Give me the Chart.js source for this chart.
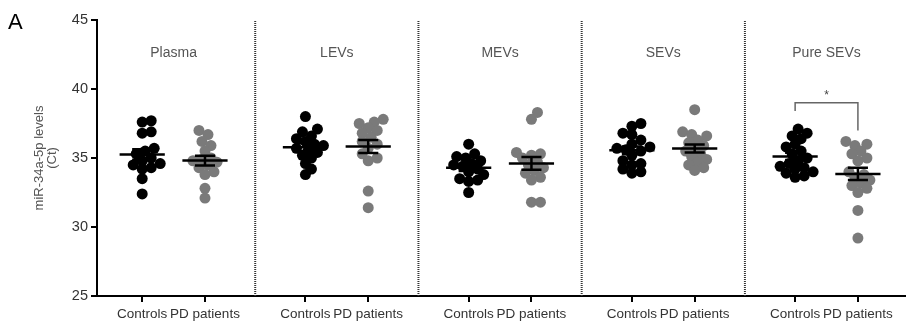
<!DOCTYPE html>
<html>
<head>
<meta charset="utf-8">
<script src="https://cdn.jsdelivr.net/npm/chart.js@4.4.1/dist/chart.umd.min.js"></script>
<style>
  html, body { margin: 0; padding: 0; background: #fff; }
  #wrap { width: 914px; height: 329px; }
</style>
</head>
<body>
<div id="wrap"><canvas id="c" width="914" height="329"></canvas></div>
<script>
// pannelli e gruppi
const panels = ['Plasma', 'LEVs', 'MEVs', 'SEVs', 'Pure SEVs'];
const groupLabels = ['Controls', 'PD patients'];
const yTicks = [25, 30, 35, 40, 45];

// valori Ct
const plasmaControls = [37.7, 37.6, 36.9, 36.8, 35.7, 35.5, 35.3, 35.0, 34.8, 34.6, 34.5, 34.3, 34.2, 33.5, 32.4];
const plasmaPatients = [37.0, 36.7, 36.2, 35.9, 35.5, 35.0, 34.9, 34.8, 34.7, 34.5, 34.3, 34.0, 33.8, 32.8, 32.1];
const levsControls = [38.0, 37.1, 36.9, 36.6, 36.4, 36.2, 36.0, 35.9, 35.7, 35.6, 35.4, 35.2, 35.0, 34.6, 34.2, 33.8];
const levsPatients = [37.8, 37.6, 37.5, 37.2, 37.0, 36.8, 36.5, 36.2, 36.0, 35.7, 35.3, 35.0, 34.8, 32.6, 31.4];
const mevsControls = [36.0, 35.3, 35.1, 35.0, 34.8, 34.6, 34.5, 34.4, 34.2, 34.0, 33.8, 33.5, 33.4, 33.3, 32.5];
const mevsPatients = [38.3, 37.8, 35.4, 35.3, 35.2, 35.0, 34.7, 34.5, 34.3, 34.1, 33.9, 33.6, 33.4, 31.8, 31.8];
const sevsControls = [37.5, 37.3, 36.8, 36.7, 36.3, 36.0, 35.8, 35.7, 35.6, 35.5, 35.2, 34.8, 34.6, 34.5, 34.2, 34.0, 33.9];
const sevsPatients = [38.5, 36.9, 36.7, 36.6, 36.3, 36.1, 35.9, 35.7, 35.5, 35.3, 35.1, 34.9, 34.7, 34.5, 34.3, 34.1];
const pureControls = [37.1, 36.8, 36.6, 36.4, 36.0, 35.8, 35.5, 35.3, 35.0, 34.8, 34.6, 34.4, 34.3, 34.2, 34.0, 33.9, 33.7, 33.6];
const purePatients = [36.2, 36.0, 35.9, 35.5, 35.3, 35.0, 34.8, 34.0, 33.8, 33.6, 33.4, 33.2, 33.0, 32.8, 32.5, 31.2, 29.2];

const controls = [plasmaControls, levsControls, mevsControls, sevsControls, pureControls];
const patients = [plasmaPatients, levsPatients, mevsPatients, sevsPatients, purePatients];

// significatività (solo Pure SEVs)
const sigPanel = 4;
const sigText = '*';
const bracketLeft = 38.4;
const bracketTop = 39.0;
const bracketRight = 37.0;

// posizioni sull'asse x (unità dati)
const GROUP_STEP = 2.6;
const xPos = (p, g) => p * GROUP_STEP + g;

// scala approssimativa px/unità per il beeswarm
const PX_X = 62.8, PX_Y = 13.8, DOT_R = 5.5;

function swarm(values, center) {
    const placed = [];
    const out = new Array(values.length);
    const order = values.map((v, i) => i).sort((a, b) => values[a] - values[b]);
    const cands = [0];
    for (let k = 1; k <= 6; k++) cands.push(k * 3, -k * 3);
    order.forEach(i => {
        const v = values[i];
        let best = 0, bestD = -1;
        for (const dx of cands) {
            let minD = Infinity;
            placed.forEach(p => {
                minD = Math.min(minD, Math.hypot(p.dx - dx, (p.v - v) * PX_Y));
            });
            if (minD >= DOT_R * 1.4) { best = dx; bestD = Infinity; break; }
            if (minD > bestD) { bestD = minD; best = dx; }
        }
        placed.push({ dx: best, v });
        out[i] = { x: center + best / PX_X, y: v };
    });
    return out;
}

function meanSem(values) {
    const n = values.length;
    const m = values.reduce((a, b) => a + b, 0) / n;
    const sd = Math.sqrt(values.reduce((a, b) => a + (b - m) * (b - m), 0) / (n - 1));
    return { m, s: sd / Math.sqrt(n) };
}

// linee media ± SEM
function errorBar(values, center) {
    const { m, s } = meanSem(values);
    const w = 0.36, c = 0.16;
    const gap = { x: center, y: null };
    return [
        { x: center - w, y: m }, { x: center + w, y: m }, gap,
        { x: center, y: m - s }, { x: center, y: m + s }, gap,
        { x: center - c, y: m + s }, { x: center + c, y: m + s }, gap,
        { x: center - c, y: m - s }, { x: center + c, y: m - s }
    ];
}

const datasets = [];
const tickPositions = [];
panels.forEach((name, p) => {
    const cx = xPos(p, 0), px = xPos(p, 1);
    tickPositions.push(cx, px);
    datasets.push({
        data: swarm(controls[p], cx), backgroundColor: '#000', borderWidth: 0,
        pointRadius: DOT_R, order: 2
    });
    datasets.push({
        data: swarm(patients[p], px), backgroundColor: '#7a7a7a', borderWidth: 0,
        pointRadius: DOT_R, order: 2
    });
    [[controls[p], cx], [patients[p], px]].forEach(([vals, x]) => {
        datasets.push({
            data: errorBar(vals, x), showLine: true, spanGaps: false,
            borderColor: '#000', borderWidth: 2.5, pointRadius: 0, order: 1
        });
    });
    // separatore tratteggiato
    if (p < panels.length - 1) {
        const d = xPos(p, 1) + (GROUP_STEP - 1) / 2;
        datasets.push({
            data: [{ x: d, y: yTicks[0] }, { x: d, y: yTicks[yTicks.length - 1] }],
            showLine: true, borderColor: '#333', borderWidth: 2, borderDash: [1, 1],
            pointRadius: 0, order: 1
        });
    }
});

// parentesi di significatività
datasets.push({
    data: [
        { x: xPos(sigPanel, 0), y: bracketLeft }, { x: xPos(sigPanel, 0), y: bracketTop },
        { x: xPos(sigPanel, 1), y: bracketTop }, { x: xPos(sigPanel, 1), y: bracketRight }
    ],
    showLine: true, borderColor: '#666', borderWidth: 1.5, pointRadius: 0, order: 1
});

const FONT = '"Liberation Sans", Arial, sans-serif';

const annotations = {
    id: 'annotations',
    afterDraw(chart) {
        const { ctx, scales: { x, y } } = chart;
        ctx.save();
        ctx.textAlign = 'center';
        ctx.textBaseline = 'middle';
        ctx.fillStyle = '#555';
        ctx.font = '14px ' + FONT;
        panels.forEach((name, p) => {
            const cx = x.getPixelForValue(xPos(p, 0.5));
            ctx.fillText(name, cx, y.getPixelForValue(42.6));
        });
        ctx.fillStyle = '#444';
        ctx.font = '12px ' + FONT;
        ctx.fillText(sigText, x.getPixelForValue(xPos(sigPanel, 0.5)), y.getPixelForValue(39.5));
        ctx.fillStyle = '#000';
        ctx.textAlign = 'left';
        ctx.font = '22px ' + FONT;
        ctx.fillText('A', 8, 23);
        ctx.restore();
    }
};

new Chart(document.getElementById('c'), {
    type: 'scatter',
    data: { datasets },
    options: {
        responsive: false,
        animation: false,
        devicePixelRatio: 1,
        layout: { padding: { left: 33, right: 9, top: 20, bottom: 0 } },
        plugins: { legend: { display: false }, tooltip: { enabled: false } },
        scales: {
            x: {
                type: 'linear',
                min: -0.72,
                max: 12.15,
                afterBuildTicks: s => { s.ticks = tickPositions.map(v => ({ value: v })); },
                afterFit: s => { s.height = 33; },
                ticks: {
                    autoSkip: false, maxRotation: 0, padding: 4,
                    color: '#333', font: { size: 13.5, family: FONT },
                    callback: (v, i) => groupLabels[i % 2]
                },
                grid: { drawOnChartArea: false, tickLength: 6, color: '#000', lineWidth: 2 },
                border: { color: '#000', width: 2 }
            },
            y: {
                min: 25,
                max: 45,
                afterBuildTicks: s => { s.ticks = yTicks.map(v => ({ value: v })); },
                afterFit: s => { s.width = 64; },
                ticks: { padding: 3, color: '#333', font: { size: 14.5, family: FONT } },
                grid: { drawOnChartArea: false, tickLength: 6, color: '#000', lineWidth: 2 },
                border: { color: '#000', width: 2 },
                title: {
                    display: true, text: ['miR-34a-5p levels', '(Ct)'],
                    color: '#555', padding: 0,
                    font: { size: 13, family: FONT, lineHeight: 1.0 }
                }
            }
        }
    },
    plugins: [annotations]
});
</script>
</body>
</html>
